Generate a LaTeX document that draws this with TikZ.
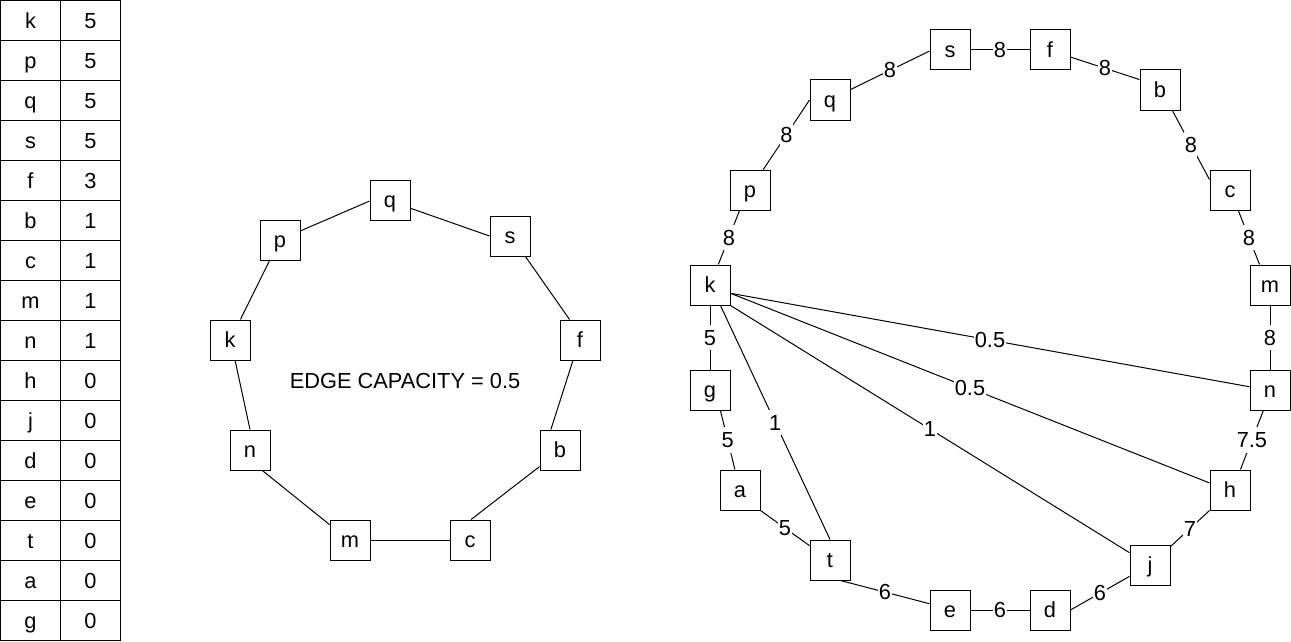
\documentclass[tikz,border=0pt]{standalone}
\usepackage{fontspec}
\setmainfont{Liberation Sans}
\begin{document}
\begin{tikzpicture}[x=1pt,y=-1pt,
  txt/.style={font=\fontsize{21.8}{26}\selectfont, text height=19.7pt, text depth=4.6pt},
  box/.style={txt, draw, line width=1pt, minimum width=40pt, minimum height=40pt, inner sep=0pt, fill=white},
  cell/.style={txt, draw, line width=1pt, minimum width=60pt, minimum height=40pt, inner sep=0pt},
  link/.style={line width=1pt},
  wt/.style={txt, fill=white, inner sep=0.5pt}]
\useasboundingbox (0,0) rectangle (1291,642);

% lookup table: vertex / value
\foreach \nm/\val [count=\i from 0] in {k/5,p/5,q/5,s/5,f/3,b/1,c/1,m/1,n/1,h/0,j/0,d/0,e/0,t/0,a/0,g/0}{
  \node[cell] (name\i) at (30.5, 20.5+40*\i) {\nm};
  \node[cell] (value\i) at (90.5, 20.5+40*\i) {\val};
}

% ring with uniform edge capacity
\node[box] (Aq) at (390,200) {q};
\node[box] (As) at (510,236) {s};
\node[box] (Ap) at (280,240) {p};
\node[box] (Ak) at (230,340) {k};
\node[box] (Af) at (580,340) {f};
\node[box] (An) at (250,450) {n};
\node[box] (Ab) at (560,450) {b};
\node[box] (Am) at (350,540) {m};
\node[box] (Ac) at (470,540) {c};
\node[txt] (cap) at (405,381) {EDGE CAPACITY = 0.5};
\draw[link] (Ap.24) -- (Aq.183);
\draw[link] (Aq.-22) -- (As.180);
\draw[link] (As.-53) -- (Af.117);
\draw[link] (Af.-109) -- (Ab.114);
\draw[link] (Ab.219) -- (Ac.87);
\draw[link] (Ac) -- (Am);
\draw[link] (Am.143) -- (An.-59);
\draw[link] (An.90) -- (Ak.-76);
\draw[link] (Ak.63) -- (Ap.-117);

% weighted ring with chords from k
\node[box] (Bs) at (950,50) {s};
\node[box] (Bq) at (830,100) {q};
\node[box] (Bp) at (750,190) {p};
\node[box] (Bk) at (710,285) {k};
\node[box] (Bf) at (1050,50) {f};
\node[box] (Bb) at (1160,90) {b};
\node[box] (Bc) at (1230,190) {c};
\node[box] (Bm) at (1270,285) {m};
\node[box] (Bg) at (710,390) {g};
\node[box] (Ba) at (740,490) {a};
\node[box] (Bt) at (830,560) {t};
\node[box] (Be) at (950,610) {e};
\node[box] (Bn) at (1270,390) {n};
\node[box] (Bh) at (1230,490) {h};
\node[box] (Bj) at (1150,565) {j};
\node[box] (Bd) at (1050,610) {d};

\draw[link] (Bk.68) -- node[wt] {8} (Bp.-117);
\draw[link] (Bp.57) -- node[wt] {8} (Bq.180);
\draw[link] (Bq.27) -- node[wt] {8} (Bs.183);
\draw[link] (Bs) -- node[wt] {8} (Bf);
\draw[link] (Bf.-19) -- node[wt] {8} (Bb.153);
\draw[link] (Bb.-59) -- node[wt] {8} (Bc.153);
\draw[link] (Bc.-68) -- node[wt] {8} (Bm.117);
\draw[link] (Bm) -- node[wt] {8} (Bn);
\draw[link] (Bn.-108) -- node[wt] {7.5} (Bh.63);
\draw[link] (Bh.225) -- node[wt] {7} (Bj.42);
\draw[link] (Bj.209) -- node[wt] {6} (Bd.0);
\draw[link] (Bd) -- node[wt] {6} (Be);
\draw[link] (Be.163) -- node[wt] {6} (Bt.-63);
\draw[link] (Bt.145) -- node[wt] {5} (Ba.-45);
\draw[link] (Ba.104) -- node[wt] {5} (Bg.-63);
\draw[link] (Bg) -- node[wt] {5} (Bk);
\draw[link] (Bk.-22) -- node[wt] {0.5} (Bn.171);
\draw[link] (Bk.-22) -- node[wt] {0.5} (Bh.161);
\draw[link] (Bk.south east) -- node[wt] {1} (Bj.149);
\draw[link] (Bk.-63) -- node[wt] {1} (Bt.90);
\end{tikzpicture}
\end{document}
